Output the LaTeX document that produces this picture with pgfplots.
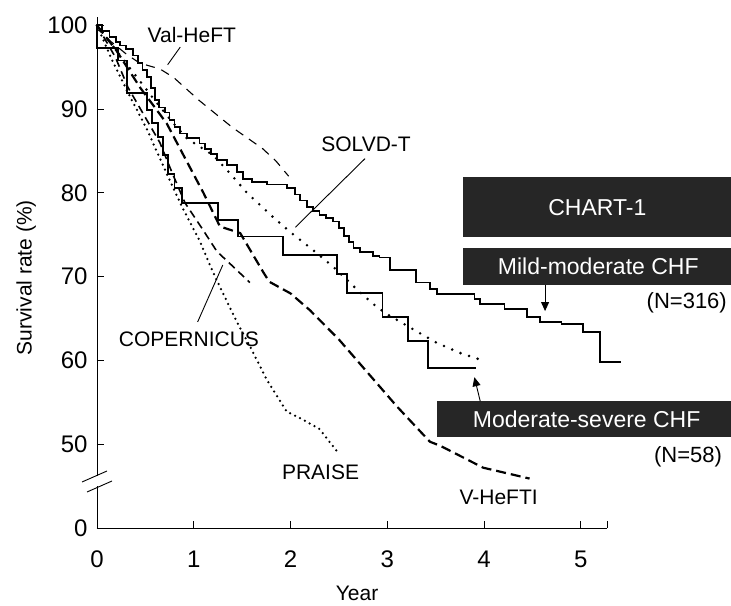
\documentclass[border=0pt]{standalone}
\usepackage{pgfplots}
\pgfplotsset{compat=1.18}
\usetikzlibrary{arrows.meta}
\usepackage{fontspec}
\setmainfont{Liberation Sans}
\definecolor{boxgray}{HTML}{262626}
\begin{document}
\begin{tikzpicture}
\useasboundingbox (-97bp,-78bp) rectangle (634bp,528bp);
\begin{axis}[
  at={(0,0)}, anchor=south west,
  scale only axis, width=510bp, height=511bp,
  xmin=0, xmax=5.27, ymin=40, ymax=101,
  axis lines=left, axis line style={-, line width=0.9bp},
  tick align=inside, major tick length=7bp, tick style={black, line width=0.9bp},
  xtick={0,1,2,3,4,5}, extra x ticks={5.27}, extra x tick labels={},
  ytick={40,50,60,70,80,90,100}, yticklabels={0,50,60,70,80,90,100},
  ticklabel style={font=\fontsize{24bp}{28bp}\selectfont},
  xticklabel style={yshift=-19bp},
  yticklabel style={xshift=-6bp},
  /pgf/number format/assume math mode=true,
  xlabel={Year}, ylabel={Survival rate (\%)},
  label style={font=\fontsize{21bp}{25bp}\selectfont},
  xlabel style={at={(axis description cs:0.51,-0.128)},anchor=center},
  ylabel style={at={(axis description cs:-0.139,0.49)},anchor=center},
  clip=false,
]
% Val-HeFT (thin dashed)
\addplot[black, line width=1.1bp, dash pattern=on 9bp off 7bp] coordinates {
(0,100) (0.13,98.2) (0.3,96.6) (0.44,95.5) (0.65,94.8) (0.79,93.8) (1.06,91.0)
(1.4,87.8) (1.71,85.3) (1.85,83.8) (1.98,82.0)};
% SOLVD-T (dotted)
\addplot[black, line width=2.8bp, line cap=round, dash pattern=on 0bp off 9bp] coordinates {
(0,100) (0.2,97) (0.4,94) (0.6,91) (0.79,88.3) (0.93,86.5) (1.2,84.5) (1.37,82.4)
(1.55,80) (1.82,77.1) (2.0,75.3) (2.23,73.2) (2.44,71.2) (2.72,68.1) (2.89,66.4)
(3.0,65.5) (3.27,63.7) (3.51,62.1) (3.75,60.9) (3.96,60.1)};
% PRAISE (fine dotted)
\addplot[black, line width=2.5bp, line cap=round, dash pattern=on 0bp off 5.5bp] coordinates {
(0,100) (0.15,96) (0.31,92.2) (0.52,87.5) (0.72,82.3) (0.88,78.3) (1.06,74.3)
(1.2,70.5) (1.29,68.3) (1.45,64.5) (1.58,61.7) (1.75,57.8) (1.96,53.9) (2.15,52.8)
(2.3,51.8) (2.49,49.0)};
% COPERNICUS (dashed)
\addplot[black, line width=1.6bp, dash pattern=on 8bp off 5bp] coordinates {
(0,100) (0.05,99) (0.19,96.2) (0.32,92.6) (0.5,89) (0.65,86) (0.78,82.3) (0.91,78.8)
(1.1,75.5) (1.24,73) (1.37,71.6) (1.58,69.3)};
% V-HeFT I (thick dashed)
\addplot[black, line width=2.2bp, dash pattern=on 10bp off 5bp] coordinates {
(0,100) (0.2,97) (0.45,92.5) (0.72,88.3) (0.88,84.8) (1.1,80) (1.27,76) (1.48,75.2)
(1.72,70.5) (1.78,69.4) (2.0,68) (2.2,66) (2.5,62.5) (2.8,58.5) (3.1,54.5)
(3.44,50.3) (3.55,49.8) (3.99,47.2) (4.47,45.9)};
% CHART-1 Mild-moderate CHF (N=316)
\addplot[black, line width=1.8bp, const plot] coordinates {
(0,100) (0.05,99.3) (0.13,98.6) (0.2,98.0) (0.24,97.6) (0.3,97.2) (0.37,96.4)
(0.42,95.5) (0.47,94.7) (0.52,93.8) (0.56,92.5) (0.6,91.1) (0.64,90.2) (0.7,89.6)
(0.75,88.7) (0.8,87.9) (0.86,87.1) (0.93,86.6) (1.06,85.9) (1.12,85.2) (1.18,84.6)
(1.24,83.9) (1.34,83.3) (1.45,82.5) (1.51,81.7) (1.6,81.3) (1.76,81.0) (1.96,80.6)
(2.05,79.8) (2.1,79.1) (2.17,78.3) (2.23,77.8) (2.3,77.4) (2.37,77.0) (2.44,76.6)
(2.5,75.8) (2.55,74.9) (2.6,74.1) (2.65,73.4) (2.72,72.9) (2.85,72.5) (2.92,72.3)
(3.03,70.8) (3.3,69.3) (3.44,68.5) (3.51,67.9) (3.9,67.3) (3.96,66.7) (4.21,66.1)
(4.44,65.2) (4.58,64.6) (4.8,64.4) (5.02,63.4) (5.2,59.8) (5.41,59.8)};
% CHART-1 Moderate-severe CHF (N=58)
\addplot[black, line width=1.8bp, const plot] coordinates {
(0,100) (0,97.3) (0.22,95.8) (0.31,91.9) (0.52,89.9) (0.57,88.3) (0.63,86.7)
(0.68,84.5) (0.73,82.3) (0.8,80.6) (0.88,78.8) (1.25,76.8) (1.46,74.8) (1.92,72.6)
(2.48,70.3) (2.58,68.1) (2.95,65.2) (3.21,62.3) (3.42,59.1) (3.92,59.1)};

% labels and pointers
\tikzset{lab/.style={font=\fontsize{21bp}{25bp}\selectfont, inner sep=0pt}}
\node[lab] at (axis cs:0.98,98.9) {Val-HeFT};
\draw[black, line width=0.9bp] (axis cs:0.86,97.4) -- (axis cs:0.73,95.3);
\node[lab] at (axis cs:2.78,85.8) {SOLVD-T};
\draw[black, line width=0.9bp] (axis cs:2.77,84.1) -- (axis cs:2.05,75.9);
\node[lab] at (axis cs:0.95,62.5) {COPERNICUS};
\draw[black, line width=0.9bp] (axis cs:1.04,64.6) -- (axis cs:1.3,71.4);
\node[lab] at (axis cs:2.31,46.6) {PRAISE};
\node[lab] at (axis cs:4.15,43.7) {V-HeFTI};

% boxes
\fill[boxgray] (axis cs:3.78,81.86) rectangle (axis cs:6.55,74.7);
\node[font=\fontsize{23bp}{27bp}\selectfont, text=white, inner sep=0pt] at (axis cs:5.17,78.3) {CHART-1};
\fill[boxgray] (axis cs:3.78,73.4) rectangle (axis cs:6.55,69.0);
\node[font=\fontsize{23bp}{27bp}\selectfont, text=white, inner sep=0pt] at (axis cs:5.18,71.2) {Mild-moderate CHF};
\node[font=\fontsize{22bp}{26bp}\selectfont, anchor=east, inner sep=0pt] at (axis cs:6.51,66.9) {(N=316)};
\draw[black, line width=0.9bp, -{Triangle[length=9bp,width=8bp]}] (axis cs:4.63,69.0) -- (axis cs:4.63,65.9);
\fill[boxgray] (axis cs:3.51,55.13) rectangle (axis cs:6.55,50.83);
\node[font=\fontsize{23bp}{27bp}\selectfont, text=white, inner sep=0pt] at (axis cs:5.06,53.0) {Moderate-severe CHF};
\node[font=\fontsize{22bp}{26bp}\selectfont, anchor=east, inner sep=0pt] at (axis cs:6.46,48.45) {(N=58)};
\draw[black, line width=0.9bp, -{Triangle[length=9bp,width=8bp]}] (axis cs:3.96,55.13) -- (axis cs:3.9,58.0);
\end{axis}
% axis break
\fill[white] (-3bp,41.5bp) rectangle (3bp,52bp);
\draw[black, line width=0.9bp] (-15bp,46bp) -- (10bp,57bp);
\draw[black, line width=0.9bp] (-10bp,36bp) -- (15bp,47bp);
\end{tikzpicture}
\end{document}
